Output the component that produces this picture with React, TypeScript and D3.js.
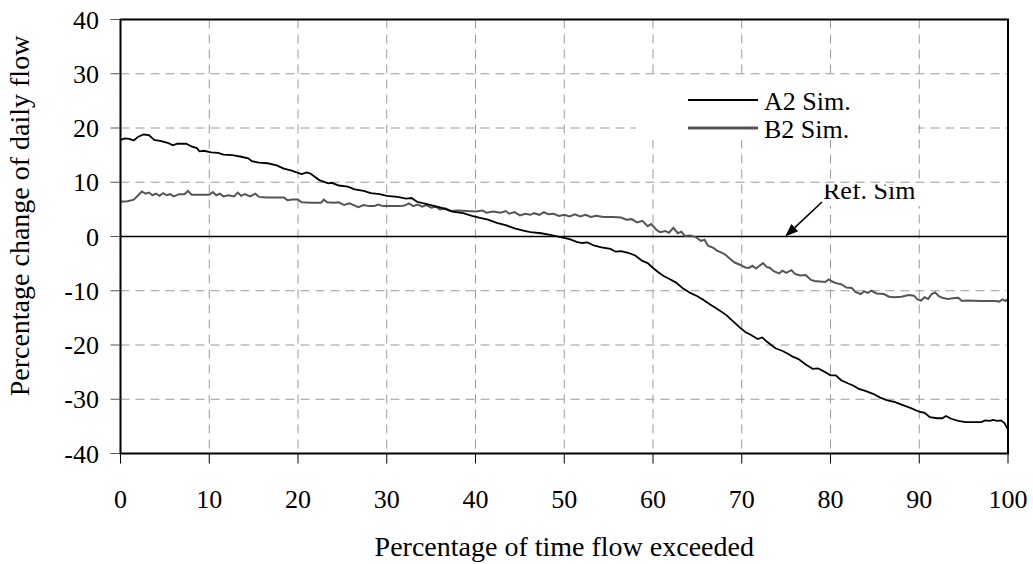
import React from "react";
import * as d3 from "d3";

const W = 1033;
const H = 564;

const xTicks = [0, 10, 20, 30, 40, 50, 60, 70, 80, 90, 100];
const yTicks = [-40, -30, -20, -10, 0, 10, 20, 30, 40];

const seriesNames = ["A2 Sim.", "B2 Sim."];

const a2X = [0, 0.5, 1.0, 1.5, 2.0, 2.6, 3.2, 3.8, 4.6, 5.4, 5.9, 6.4, 7.4, 8.0, 8.6, 8.9, 9.4, 10.2, 11.0, 11.6, 12.6, 13.6, 14.4, 14.8, 15.6, 16.6, 17.6, 18.4, 19.2, 20.4, 21.0, 21.4, 22.4, 23.4, 23.8, 24.6, 25.6, 26.4, 27.4, 28.2, 29.2, 30.0, 31.2, 32.2, 32.8, 33.4, 34.4, 35.2, 36.4, 37.4, 38.6, 39.6, 40.4, 41.4, 42.4, 43.4, 44.4, 45.4, 46.2, 47.4, 48.4, 49.6, 50.6, 51.4, 52.0, 52.6, 53.4, 54.2, 55.2, 55.8, 56.4, 57.2, 58.0, 58.8, 59.4, 60.0, 60.6, 61.2, 61.8, 62.6, 63.4, 64.2, 65.0, 65.7, 66.4, 67.2, 68.2, 69.0, 69.8, 70.4, 71.0, 71.8, 72.3, 73.0, 73.8, 74.6, 75.2, 75.8, 76.4, 77.2, 78.0, 78.6, 79.4, 80.0, 80.6, 81.2, 82.0, 82.6, 83.2, 84.0, 84.8, 85.6, 86.4, 87.2, 88.0, 89.0, 90.0, 90.6, 91.2, 92.0, 92.6, 93.0, 93.6, 94.4, 95.2, 96.2, 97.0, 97.4, 98.0, 98.3, 98.8, 99.2, 99.6, 100];
const a2Y = [17.8, 18.1, 18.0, 17.7, 18.4, 18.8, 18.7, 17.8, 17.6, 17.2, 16.8, 17.1, 17.1, 16.6, 16.3, 15.7, 15.8, 15.5, 15.4, 15.1, 15.0, 14.7, 14.4, 13.9, 13.6, 13.5, 13.1, 12.5, 12.2, 11.5, 11.8, 11.6, 10.4, 9.8, 9.9, 9.4, 9.2, 8.7, 8.4, 8.0, 7.8, 7.5, 7.3, 7.0, 7.1, 6.4, 6.0, 5.7, 5.2, 4.6, 4.3, 3.8, 3.5, 3.1, 2.5, 2.1, 1.5, 1.1, 0.8, 0.6, 0.3, -0.1, -0.5, -1.0, -1.2, -1.1, -1.7, -2.0, -2.3, -2.8, -2.7, -3.0, -3.5, -4.5, -4.9, -5.8, -6.6, -7.3, -7.8, -8.5, -9.6, -10.4, -11.0, -11.7, -12.5, -13.3, -14.4, -15.6, -16.8, -17.6, -18.1, -18.9, -18.6, -19.6, -20.6, -21.1, -21.6, -22.2, -22.6, -23.6, -24.4, -24.3, -25.0, -25.6, -25.6, -26.5, -27.1, -27.5, -28.1, -28.5, -29.0, -29.7, -30.2, -30.5, -31.0, -31.6, -32.3, -32.5, -33.3, -33.5, -33.5, -33.1, -33.6, -34.0, -34.2, -34.2, -34.2, -33.9, -34.0, -33.8, -34.0, -33.9, -34.4, -35.6];

const b2X = [0, 0.8, 1.5, 2.0, 2.4, 2.8, 3.2, 3.6, 4.0, 4.4, 4.8, 5.2, 5.6, 6.0, 6.6, 7.2, 7.6, 8.0, 8.6, 9.4, 10.0, 10.4, 10.8, 11.2, 11.6, 12.2, 12.8, 13.2, 13.6, 14.0, 14.6, 15.2, 15.6, 16.4, 17.5, 18.4, 18.8, 19.4, 20.0, 20.4, 21.5, 22.6, 22.9, 23.3, 24.0, 24.6, 25.2, 25.8, 26.4, 26.8, 27.4, 28.0, 28.6, 29.0, 29.6, 30.5, 31.5, 32.0, 32.5, 33.0, 33.5, 34.0, 34.5, 35.0, 35.5, 36.0, 36.6, 37.2, 38.0, 39.0, 40.0, 40.8, 41.2, 42.0, 42.8, 43.4, 43.8, 44.4, 45.0, 45.6, 46.2, 46.6, 47.2, 47.7, 48.2, 48.8, 49.4, 50.0, 50.6, 51.2, 51.8, 52.4, 53.0, 53.6, 54.4, 55.5, 56.4, 57.0, 57.6, 58.2, 58.8, 59.4, 59.8, 60.4, 60.8, 61.4, 61.8, 62.3, 62.8, 63.2, 63.6, 64.2, 64.8, 65.4, 65.8, 66.2, 66.8, 67.2, 67.8, 68.2, 68.8, 69.2, 69.8, 70.4, 70.8, 71.2, 71.6, 72.0, 72.4, 72.8, 73.2, 73.6, 74.2, 74.6, 75.0, 75.6, 76.0, 76.6, 77.2, 77.8, 78.2, 78.8, 79.4, 79.8, 80.2, 80.6, 81.2, 81.8, 82.4, 82.8, 83.4, 83.8, 84.2, 84.6, 85.2, 86.0, 86.6, 87.2, 88.0, 88.8, 89.4, 89.8, 90.2, 90.6, 91.0, 91.4, 91.8, 92.2, 92.6, 93.2, 93.8, 94.4, 94.8, 95.4, 97.0, 98.6, 99.0, 99.4, 99.7, 100];
const b2Y = [6.4, 6.5, 6.8, 7.6, 8.3, 7.9, 8.1, 7.6, 7.9, 7.5, 8.0, 7.6, 7.8, 7.4, 7.8, 7.8, 8.4, 7.7, 7.7, 7.7, 7.7, 8.2, 7.6, 7.9, 7.4, 7.6, 7.4, 8.1, 7.5, 7.8, 7.4, 7.9, 7.3, 7.2, 7.2, 7.2, 6.7, 6.8, 6.8, 6.3, 6.2, 6.2, 6.8, 6.3, 6.2, 6.3, 5.8, 6.1, 5.7, 5.4, 5.8, 5.6, 5.6, 5.9, 5.6, 5.6, 5.6, 5.7, 6.1, 5.6, 5.9, 5.5, 5.8, 5.3, 5.5, 5.0, 5.2, 4.7, 4.8, 4.7, 4.6, 4.8, 4.4, 4.6, 4.4, 4.7, 4.2, 4.5, 3.9, 4.2, 4.0, 4.3, 4.0, 4.5, 4.1, 4.2, 3.8, 4.0, 3.7, 4.1, 3.7, 4.0, 3.6, 3.8, 3.6, 3.6, 3.5, 3.1, 3.2, 2.6, 2.9, 1.9, 2.3, 1.2, 0.8, 1.0, 0.7, 1.6, 0.6, 0.9, 0.1, 0.2, -0.1, -0.8, -0.6, -1.7, -2.1, -2.6, -3.0, -3.4, -4.3, -4.8, -5.2, -5.7, -5.8, -5.4, -5.9, -5.4, -4.9, -5.6, -5.8, -6.4, -6.8, -6.3, -6.7, -6.2, -6.9, -7.2, -7.1, -8.0, -8.2, -8.3, -8.4, -7.9, -8.3, -8.6, -8.8, -9.4, -9.5, -10.2, -10.6, -10.1, -10.4, -10.0, -10.5, -10.6, -11.1, -11.2, -11.1, -10.8, -10.9, -11.6, -11.8, -11.2, -11.5, -10.6, -10.3, -11.0, -11.3, -11.5, -11.4, -11.3, -11.9, -11.8, -11.9, -11.9, -12.0, -11.6, -11.9, -11.5];

const FONT = "'Liberation Serif', 'Times New Roman', serif";

export default function App() {
  const left = 120.5;
  const right = 1008;
  const top = 19.5;
  const bottom = 453.5;

  const x = d3.scaleLinear().domain([0, 100]).range([left, right]);
  const y = d3.scaleLinear().domain([-40, 40]).range([bottom, top]);

  const line = d3
    .line<[number, number]>()
    .x((d) => x(d[0]))
    .y((d) => y(d[1]));

  const a2 = a2X.map((v, i) => [v, a2Y[i]] as [number, number]);
  const b2 = b2X.map((v, i) => [v, b2Y[i]] as [number, number]);

  const gridColor = "#9a9a9a";
  const dash = "9,6";

  // arrow geometry
  const ax1 = 822, ay1 = 202;
  const ax2 = x(74.9), ay2 = y(0);
  const ang = Math.atan2(ay2 - ay1, ax2 - ax1);
  const hl = 13, hw = 5;
  const bx = ax2 - hl * Math.cos(ang);
  const by = ay2 - hl * Math.sin(ang);
  const p1 = [bx + hw * Math.sin(ang), by - hw * Math.cos(ang)];
  const p2 = [bx - hw * Math.sin(ang), by + hw * Math.cos(ang)];

  return (
    <svg
      width={W}
      height={H}
      style={{ position: "absolute", left: 0, top: 0, background: "#fff" }}
      fontFamily={FONT}
    >
      <rect x={0} y={0} width={W} height={H} fill="#fff" />
      {/* grid */}
      {xTicks.slice(1, -1).map((t) => (
        <line key={"gx" + t} x1={x(t)} x2={x(t)} y1={top} y2={bottom} stroke={gridColor} strokeWidth={1} strokeDasharray={dash} />
      ))}
      {yTicks.slice(1, -1).map((t) =>
        t === 0 ? null : (
          <line key={"gy" + t} x1={left} x2={right} y1={y(t)} y2={y(t)} stroke={gridColor} strokeWidth={1} strokeDasharray={dash} />
        )
      )}

      {/* legend box (white, hides grid) */}
      <rect x={636} y={79} width={282} height={61} fill="#fff" />
      <line x1={688} x2={758} y1={100} y2={100} stroke="#000" strokeWidth={1.8} />
      <line x1={688} x2={758} y1={128} y2={128} stroke="#555" strokeWidth={2.8} />
      <text x={764} y={110} fontSize={26} fill="#000">{seriesNames[0]}</text>
      <text x={764} y={138} fontSize={26} fill="#000">{seriesNames[1]}</text>

      {/* ref sim label box */}
      <defs>
        <clipPath id="refclip">
          <rect x={820} y={184.5} width={122} height={22} />
        </clipPath>
      </defs>
      <rect x={822} y={184} width={118} height={22} fill="#fff" />
      <text x={823} y={199} fontSize={26} fill="#000" clipPath="url(#refclip)">Ref. Sim</text>

      {/* zero line */}
      <line x1={left} x2={right} y1={y(0)} y2={y(0)} stroke="#000" strokeWidth={1.3} />

      {/* series */}
      <path d={line(b2) || ""} fill="none" stroke="#555" strokeWidth={2} strokeLinejoin="miter" />
      <path d={line(a2) || ""} fill="none" stroke="#000" strokeWidth={1.8} />

      {/* arrow */}
      <line x1={ax1} y1={ay1} x2={bx} y2={by} stroke="#000" strokeWidth={1.6} />
      <polygon points={`${ax2},${ay2} ${p1[0]},${p1[1]} ${p2[0]},${p2[1]}`} fill="#000" />

      {/* frame */}
      <rect x={left} y={top} width={right - left} height={bottom - top} fill="none" stroke="#000" strokeWidth={2} />

      {/* y ticks */}
      {yTicks.map((t) => (
        <g key={"yt" + t}>
          <line x1={left - 10} x2={left} y1={y(t)} y2={y(t)} stroke="#555" strokeWidth={1} />
          <text x={99} y={y(t)} dy="0.35em" textAnchor="end" fontSize={26} fill="#000">{t}</text>
        </g>
      ))}
      {/* x ticks */}
      {xTicks.map((t) => (
        <g key={"xt" + t}>
          <line x1={x(t)} x2={x(t)} y1={bottom} y2={bottom + 10} stroke="#000" strokeWidth={1} />
          <text x={x(t)} y={508} textAnchor="middle" fontSize={26} fill="#000">{t}</text>
        </g>
      ))}

      {/* axis titles */}
      <text x={(left + right) / 2} y={556} textAnchor="middle" fontSize={28} fill="#000">
        Percentage of time flow exceeded
      </text>
      <text
        transform={`translate(29, ${216}) rotate(-90)`}
        textAnchor="middle"
        fontSize={28}
        fill="#000"
      >
        Percentage change of daily flow
      </text>
    </svg>
  );
}
